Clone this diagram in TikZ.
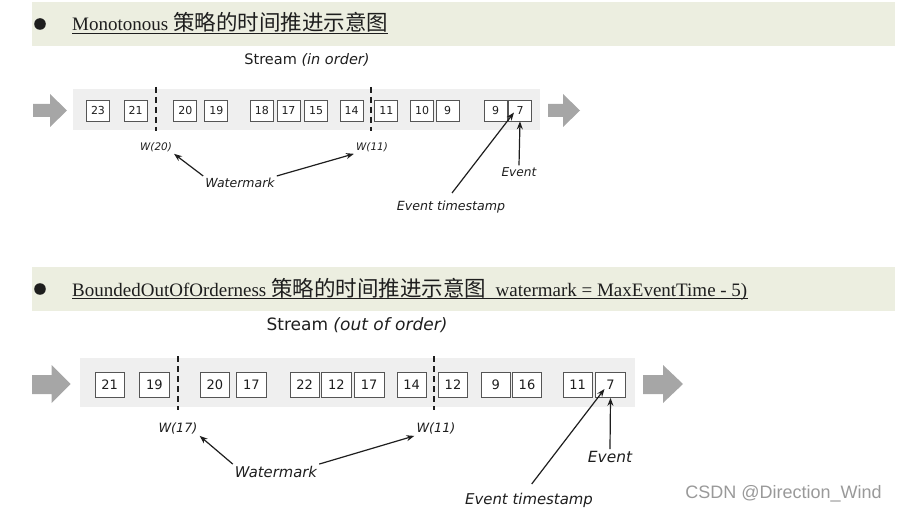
\documentclass[tikz,border=0pt]{standalone}
\usepackage{fontspec}
\setmainfont{Liberation Serif}
\newfontfamily\cjk{Noto Sans CJK SC}
\newfontfamily\dv{DejaVu Sans}
\newfontfamily\lsans{Liberation Sans}
\usetikzlibrary{arrows.meta}
\definecolor{hdrbg}{HTML}{ECEEE0}
\definecolor{bandbg}{HTML}{EFEFEF}
\definecolor{arrgray}{HTML}{A6A6A6}
\definecolor{boxline}{HTML}{555555}
\definecolor{txt}{HTML}{1E1E1E}
\definecolor{csdn}{HTML}{999999}
\begin{document}
\begin{tikzpicture}[x=1pt,y=-1pt,
  boxa/.style={draw=boxline, line width=0.7pt, fill=white, minimum width=23pt, minimum height=21pt, inner sep=0pt, font=\dv\fontsize{11}{12}\selectfont, text=txt},
  boxb/.style={boxa, minimum width=29.5pt, minimum height=25pt, font=\dv\fontsize{13}{15}\selectfont},
  wmline/.style={line width=1.8pt, dash pattern=on 6pt off 4pt, draw=txt},
  lbl/.style={font=\dv\itshape\fontsize{#1}{#1}\selectfont, text=txt, inner sep=2pt},
  strm/.style={font=\dv\fontsize{#1}{#1}\selectfont, text=txt, inner sep=0pt},
  hdr/.style={font=\fontsize{19}{19}\selectfont, text=txt, inner sep=0pt, anchor=base west},
  arr/.style={-{Stealth[length=8pt,width=6pt]}, line width=1.2pt, draw=txt},
  ]
\useasboundingbox (0,0) rectangle (900,513);

% ---------- Section 1 ----------
\fill[hdrbg] (32,2) rectangle (895,46);
\fill[txt] (40,24) circle (5.8);
\node[hdr] (h1) at (72,31) {Monotonous {\cjk\fontsize{21.5}{21.5}\selectfont 策略的时间推进示意图}};
\draw[txt, line width=0.9pt] ([yshift=-2.5pt]h1.base west) -- ([yshift=-2.5pt]h1.base east);

\node[strm=14.5] (s1) at (307,60) {Stream \textit{(in order)}};

\fill[bandbg] (73,89) rectangle (540,130);
\fill[arrgray] (33,104) -- (50,104) -- (50,94) -- (67,110.5) -- (50,127) -- (50,117) -- (33,117) -- cycle;
\fill[arrgray] (548,104) -- (563,104) -- (563,94) -- (580,110.5) -- (563,127) -- (563,117) -- (548,117) -- cycle;

\foreach \cx/\t [count=\i] in {98/23,135.7/21,185.3/20,216.3/19,261.8/18,288.5/17,316/15,351.7/14,386.3/11,422/10,447.5/9,495.5/9,520/7}
  \node[boxa] (a\i) at (\cx,110.5) {\t};

\draw[wmline] (156,87) -- (156,131);
\draw[wmline] (370.7,87) -- (370.7,131);

\node[lbl=10.4] (w20) at (156,147) {W(20)};
\node[lbl=10.4] (w11) at (372,147) {W(11)};
\node[lbl=12.5] (wm1) at (240,183) {Watermark};
\node[lbl=12.2] (ev1) at (519,172) {Event};
\node[lbl=12.6] (ts1) at (451,207) {Event timestamp};
\coordinate (ts1a) at (452,193);

\draw[arr] (wm1.north west) -- (w20.south east);
\draw[arr] (wm1.north east) -- (w11.south west);
\draw[arr] (ev1.north) -- (a13.south);
\draw[arr] (ts1a) -- ([xshift=-6pt,yshift=-2pt]a13.center);

% ---------- Section 2 ----------
\fill[hdrbg] (32,267) rectangle (895,311);
\fill[txt] (40,289) circle (5.8);
\node[hdr] (h2) at (72,296) {BoundedOutOfOrderness {\cjk\fontsize{21.5}{21.5}\selectfont 策略的时间推进示意图}\ \ watermark = MaxEventTime - 5)};
\draw[txt, line width=0.9pt] ([yshift=-2.5pt]h2.base west) -- ([yshift=-2.5pt]h2.base east);

\node[strm=17] (s2) at (357,325) {Stream \textit{(out of order)}};

\fill[bandbg] (80,358) rectangle (635,407);
\fill[arrgray] (32,375) -- (51.7,375) -- (51.7,365) -- (70.7,384) -- (51.7,403) -- (51.7,394) -- (32,394) -- cycle;
\fill[arrgray] (643,375) -- (663,375) -- (663,365) -- (683,384) -- (663,403) -- (663,394) -- (643,394) -- cycle;

\foreach \cx/\t [count=\i] in {109.7/21,154.3/19,215/20,251.3/17,304.7/22,336.3/12,369.2/17,411.7/14,453/12,495.8/9,527/16,577.7/11,610.5/7}
  \node[boxb] (b\i) at (\cx,385) {\t};

\draw[wmline] (177.7,356) -- (177.7,410);
\draw[wmline] (434,356) -- (434,410);

\node[lbl=12.8] (w17) at (178,428) {W(17)};
\node[lbl=12.8] (w11b) at (436,428) {W(11)};
\node[lbl=14.8] (wm2) at (276,472) {Watermark};
\node[lbl=15.4] (ev2) at (610,457) {Event};
\node[lbl=14.9] (ts2) at (529,500) {Event timestamp};
\coordinate (ts2a) at (531.7,484);

\draw[arr] (wm2.north west) -- (w17.south east);
\draw[arr] (wm2.north east) -- (w11b.south west);
\draw[arr] (ev2.north) -- (b13.south);
\draw[arr] (ts2a) -- ([xshift=-6pt,yshift=-4pt]b13.center);

\node[font=\lsans\fontsize{18}{18}\selectfont, text=csdn, inner sep=0pt] (csdn) at (783.5,494) {CSDN @Direction\_Wind};
\end{tikzpicture}
\end{document}
